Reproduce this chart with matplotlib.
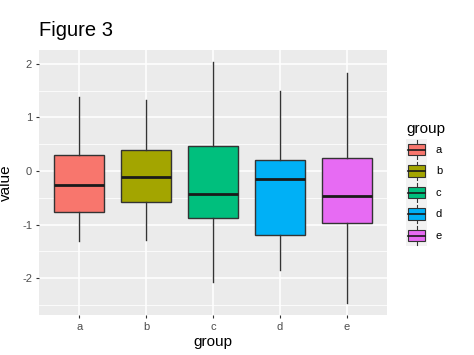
import matplotlib
matplotlib.use("Agg")
import matplotlib.pyplot as plt
from matplotlib.legend_handler import HandlerBase
from matplotlib.patches import Rectangle
from matplotlib.lines import Line2D

plt.rcParams["font.family"] = ["Liberation Sans", "DejaVu Sans"]
plt.rcParams["axes.unicode_minus"] = False

groups = ["a", "b", "c", "d", "e"]
whislo = [-1.31, -1.28, -2.07, -1.85, -2.47]
q1 = [-0.76, -0.57, -0.88, -1.20, -0.98]
med = [-0.26, -0.11, -0.43, -0.15, -0.47]
q3 = [0.29, 0.39, 0.47, 0.21, 0.25]
whishi = [1.38, 1.33, 2.04, 1.50, 1.83]
colors = ["#F8766D", "#A3A500", "#00BF7D", "#00B0F6", "#E76BF3"]
yticks = [-2, -1, 0, 1, 2]
yminor = [-2.5, -1.5, -0.5, 0.5, 1.5]

EDGE = "#333333"

fig = plt.figure(figsize=(4.74, 3.55), dpi=100)
ax = fig.add_axes([39/474, 1-315/355, (387-39)/474, (315-50)/355])
ax.set_facecolor("#EBEBEB")
for s in ax.spines.values():
    s.set_visible(False)

stats = []
for i, g in enumerate(groups):
    stats.append(dict(label=g, whislo=whislo[i], q1=q1[i], med=med[i],
                      q3=q3[i], whishi=whishi[i], fliers=[]))
pos = list(range(1, len(groups)+1))
bp = ax.bxp(stats, positions=pos, widths=0.75, patch_artist=True,
            showcaps=False, zorder=3,
            boxprops=dict(edgecolor=EDGE, linewidth=1.0),
            whiskerprops=dict(color=EDGE, linewidth=1.0),
            medianprops=dict(color="#1a1a1a", linewidth=2.0))
for p, c in zip(bp["boxes"], colors):
    p.set_facecolor(c)

ax.set_xlim(0.4, 5.6)
ax.set_ylim(-2.69, 2.26)
ax.set_xticks(pos)
ax.set_xticklabels(groups)
ax.set_yticks(yticks)
ax.set_yticks(yminor, minor=True)
ax.grid(True, which="major", color="white", linewidth=1.1, zorder=0)
ax.grid(True, which="minor", axis="y", color="white", linewidth=0.55, zorder=0)
ax.set_axisbelow(True)
ax.tick_params(axis="both", which="major", length=2.5, width=0.8, color="#333333",
               labelcolor="#4D4D4D", labelsize=8, pad=2.5)
ax.tick_params(axis="y", which="minor", length=0)
ax.set_xlabel("group", fontsize=11, labelpad=2)
ax.set_ylabel("value", fontsize=11)
ax.yaxis.set_label_coords((13-39)/348, 0.5)
fig.text(39/474, 1-30/355, "Figure 3", fontsize=14.5, va="center", ha="left")


class BoxHandler(HandlerBase):
    def __init__(self, color):
        super().__init__()
        self.color = color

    def create_artists(self, legend, orig_handle, xdescent, ydescent, width, height, fontsize, trans):
        arts = []
        bg = Rectangle((-xdescent, -ydescent), width, height, facecolor="#F2F2F2",
                       edgecolor="none", transform=trans)
        arts.append(bg)
        cx = -xdescent + width/2
        bw = width*0.8
        bh = height*0.52
        by = -ydescent + height*0.24
        arts.append(Line2D([cx, cx], [-ydescent+height*0.06, by], color=EDGE, lw=0.8, transform=trans))
        arts.append(Line2D([cx, cx], [by+bh, -ydescent+height*0.94], color=EDGE, lw=0.8, transform=trans))
        arts.append(Rectangle((cx-bw/2, by), bw, bh, facecolor=self.color, edgecolor=EDGE,
                              lw=0.8, transform=trans))
        arts.append(Line2D([cx-bw/2, cx+bw/2], [by+bh/2, by+bh/2], color="#1a1a1a", lw=1.2, transform=trans))
        return arts

handles = [Rectangle((0, 0), 1, 1) for _ in groups]
hmap = {h: BoxHandler(c) for h, c in zip(handles, colors)}
leg = fig.legend(handles, groups, title="group", loc="upper left",
                 bbox_to_anchor=(406/474, 1-122/355), frameon=False,
                 handler_map=hmap, handlelength=1.9, handleheight=2.6,
                 handletextpad=0.8, labelspacing=0.0, fontsize=8,
                 title_fontsize=11, borderpad=0, borderaxespad=0)
leg._legend_box.align = "left"
leg._legend_box.sep = 2

fig.savefig("out.png", dpi=100)
